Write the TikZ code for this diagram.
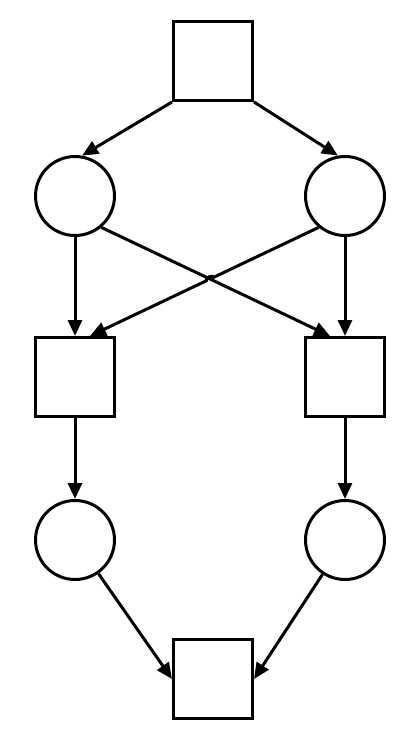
\documentclass[tikz,border=0pt]{standalone}
\usetikzlibrary{arrows.meta,calc}
\begin{document}
\begin{tikzpicture}[x=1pt,y=-1pt,
  place/.style={draw,circle,line width=3pt,minimum size=79pt,inner sep=0pt},
  trans/.style={draw,rectangle,line width=3pt,minimum size=79pt,inner sep=0pt},
  arc/.style={line width=3pt,-{Triangle[length=16pt,width=14pt]}}]
\useasboundingbox (0,0) rectangle (415,744);
\node[trans] (t0) at (213,61) {};
\node[place] (p1) at (75,196) {};
\node[place] (p2) at (345,196) {};
\node[trans] (t1) at (75,377) {};
\node[trans] (t2) at (345,377) {};
\node[place] (p3) at (75,540) {};
\node[place] (p4) at (345,540) {};
\node[trans] (t3) at (213,679) {};
\draw[arc] (t0.south west) -- (p1.80);
\draw[arc] (t0.south east) -- (p2.100);
\draw[arc] (p1) -- (t1);
\draw[arc] (p2) -- (t2);
\coordinate (s1) at (p1.-50);
\coordinate (e1) at ($(t2.north west)+(26,0)$);
\coordinate (s2) at (p2.-130);
\coordinate (e2) at ($(t1.north east)+(-26,0)$);
\coordinate (X) at (intersection of s1--e1 and s2--e2);
\draw[arc] (s1) -- (e1);
\draw[arc] (s2) -- ($(X)!4pt!(s2)$) to[bend right=90] ($(X)!4pt!(e2)$) -- (e2);
\draw[arc] (t1) -- (p3);
\draw[arc] (t2) -- (p4);
\draw[arc] (p3) -- (t3.west);
\draw[arc] (p4) -- (t3.east);
\end{tikzpicture}
\end{document}
